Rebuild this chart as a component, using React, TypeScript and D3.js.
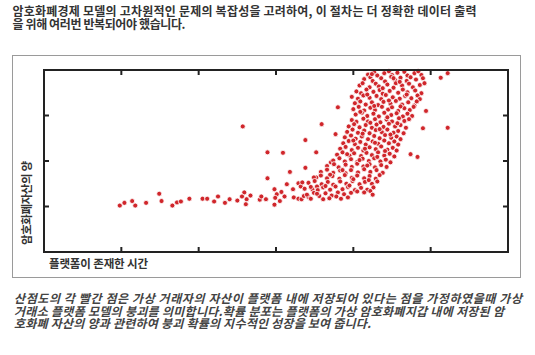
import React from 'react';
import * as d3 from 'd3';

// 플랫폼 초기: 낮은 자산 구간의 점들
const earlyPoints: [number, number][] = [
  [0.98, 1.02], [1.04, 1.08], [1.14, 1.12], [1.18, 1.02], [1.32, 1.08],
  [1.49, 1.28], [1.52, 1.12], [1.66, 1.02], [1.72, 1.09], [1.77, 1.11],
  [1.88, 1.17], [2.05, 1.17], [2.11, 1.17], [2.20, 1.11], [2.25, 1.22],
  [2.34, 1.08], [2.40, 1.16], [2.50, 1.13], [2.59, 1.31], [2.56, 1.22],
  [2.62, 1.16], [2.61, 1.05], [2.67, 1.24], [2.79, 1.15], [2.81, 1.22],
  [2.87, 1.16], [2.89, 1.62], [2.98, 1.38], [3.01, 1.27], [2.99, 1.19],
  [3.07, 1.32], [3.05, 1.12], [2.98, 1.04], [3.11, 1.22], [3.14, 1.49],
  [3.18, 1.76], [3.22, 1.38], [3.23, 1.20], [3.29, 1.17], [3.29, 1.51],
  [3.32, 1.44], [3.34, 1.53], [3.33, 1.16], [3.36, 1.23], [3.38, 1.85],
  [3.42, 1.21], [3.47, 1.38], [3.50, 1.58], [3.52, 1.64], [3.53, 1.44],
];

// 흩어진 점들
const outliers: [number, number][] = [
  [2.57, 2.76], [2.89, 2.19], [3.09, 2.18], [3.38, 2.46], [3.52, 2.19],
  [3.59, 2.81], [3.71, 1.97], [3.77, 2.59], [3.80, 3.18],
  [5.13, 3.83], [5.22, 3.93], [5.22, 2.73], [4.94, 3.10], [4.90, 2.72],
  [4.74, 2.15], [4.83, 2.09],
];

// 붕괴 확률이 급증하는 밀집 구간
const cluster: [number, number][] = [
  [4.19, 3.90], [4.27, 3.95], [4.31, 3.88], [4.40, 3.93], [4.46, 3.97], [4.50, 3.89], [4.57, 3.94], [4.66, 3.96], [4.70, 3.88], [4.79, 3.93], [4.84, 3.97], [4.88, 3.89],
  [4.14, 3.80], [4.22, 3.84], [4.25, 3.76], [4.36, 3.82], [4.41, 3.75], [4.49, 3.85], [4.54, 3.78], [4.61, 3.83], [4.69, 3.76], [4.74, 3.84], [4.81, 3.79], [4.90, 3.82],
  [4.08, 3.66], [4.12, 3.71], [4.21, 3.62], [4.29, 3.70], [4.33, 3.64], [4.44, 3.68], [4.52, 3.61], [4.55, 3.71], [4.63, 3.66], [4.72, 3.70], [4.77, 3.62], [4.86, 3.67], [4.92, 3.71],
  [4.04, 3.53], [4.10, 3.49], [4.17, 3.57], [4.26, 3.52], [4.34, 3.56], [4.38, 3.48], [4.47, 3.54], [4.58, 3.50], [4.64, 3.57], [4.70, 3.51], [4.80, 3.55], [4.88, 3.49],
  [3.98, 3.41], [4.06, 3.37], [4.13, 3.44], [4.21, 3.39], [4.30, 3.43], [4.36, 3.36], [4.42, 3.45], [4.51, 3.40], [4.60, 3.37], [4.67, 3.43], [4.75, 3.38], [4.83, 3.44], [4.86, 3.36],
  [4.02, 3.27], [4.09, 3.31], [4.16, 3.24], [4.24, 3.29], [4.32, 3.23], [4.39, 3.30], [4.48, 3.26], [4.55, 3.32], [4.63, 3.24], [4.71, 3.29], [4.79, 3.22], [4.82, 3.31],
  [4.00, 3.14], [4.07, 3.19], [4.14, 3.11], [4.22, 3.17], [4.28, 3.12], [4.37, 3.19], [4.45, 3.13], [4.50, 3.18], [4.58, 3.10], [4.66, 3.16], [4.73, 3.12], [4.78, 3.19],
  [4.03, 3.02], [4.11, 3.06], [4.18, 2.99], [4.26, 3.04], [4.33, 2.98], [4.40, 3.06], [4.49, 3.01], [4.56, 3.05], [4.64, 2.98], [4.70, 3.04], [4.76, 2.99],
  [3.98, 2.90], [4.04, 2.86], [4.13, 2.93], [4.19, 2.87], [4.28, 2.92], [4.35, 2.85], [4.43, 2.91], [4.50, 2.87], [4.59, 2.94], [4.66, 2.88], [4.72, 2.92],
  [3.94, 2.76], [4.01, 2.81], [4.08, 2.74], [4.16, 2.79], [4.24, 2.73], [4.30, 2.80], [4.39, 2.75], [4.46, 2.82], [4.54, 2.76], [4.61, 2.79], [4.68, 2.73],
  [3.92, 2.64], [3.99, 2.69], [4.06, 2.62], [4.14, 2.67], [4.21, 2.61], [4.29, 2.68], [4.37, 2.63], [4.44, 2.69], [4.52, 2.62], [4.58, 2.66], [4.65, 2.61],
  [3.89, 2.52], [3.97, 2.56], [4.03, 2.49], [4.11, 2.54], [4.19, 2.48], [4.27, 2.55], [4.34, 2.50], [4.41, 2.57], [4.49, 2.51], [4.56, 2.54], [4.61, 2.48],
  [3.87, 2.39], [3.94, 2.44], [4.02, 2.37], [4.09, 2.42], [4.16, 2.36], [4.25, 2.43], [4.32, 2.38], [4.40, 2.45], [4.46, 2.39], [4.53, 2.43], [4.58, 2.36],
  [3.83, 2.27], [3.90, 2.31], [3.98, 2.24], [4.06, 2.29], [4.13, 2.23], [4.21, 2.30], [4.29, 2.26], [4.36, 2.32], [4.44, 2.25], [4.51, 2.29], [4.56, 2.23],
  [3.79, 2.14], [3.86, 2.19], [3.95, 2.12], [4.01, 2.17], [4.10, 2.11], [4.17, 2.18], [4.24, 2.13], [4.32, 2.19], [4.40, 2.12], [4.47, 2.16], [4.53, 2.10],
  [3.74, 2.01], [3.82, 2.06], [3.89, 1.99], [3.97, 2.04], [4.05, 1.98], [4.12, 2.05], [4.20, 2.00], [4.27, 2.06], [4.35, 1.99], [4.42, 2.03], [4.48, 1.97],
  [3.66, 1.89], [3.75, 1.93], [3.81, 1.86], [3.90, 1.92], [3.98, 1.87], [4.05, 1.94], [4.13, 1.88], [4.21, 1.93], [4.28, 1.86], [4.36, 1.91], [4.43, 1.87],
  [3.58, 1.76], [3.66, 1.81], [3.74, 1.74], [3.83, 1.79], [3.90, 1.73], [3.97, 1.80], [4.06, 1.75], [4.14, 1.82], [4.22, 1.76], [4.30, 1.80], [4.38, 1.74],
  [3.49, 1.64], [3.58, 1.68], [3.66, 1.62], [3.73, 1.67], [3.82, 1.61], [3.89, 1.69], [3.98, 1.63], [4.05, 1.68], [4.14, 1.62], [4.21, 1.67], [4.29, 1.61], [4.34, 1.69],
  [3.42, 1.52], [3.50, 1.56], [3.59, 1.49], [3.67, 1.54], [3.74, 1.48], [3.83, 1.55], [3.91, 1.50], [3.99, 1.56], [4.08, 1.49], [4.15, 1.54], [4.24, 1.50], [4.31, 1.55],
  [3.37, 1.39], [3.45, 1.43], [3.54, 1.36], [3.61, 1.42], [3.70, 1.37], [3.77, 1.44], [3.86, 1.38], [3.93, 1.43], [4.02, 1.36], [4.10, 1.41], [4.18, 1.37], [4.26, 1.42],
  [3.40, 1.26], [3.49, 1.30], [3.56, 1.23], [3.64, 1.29], [3.72, 1.24], [3.80, 1.31], [3.88, 1.27], [3.97, 1.30], [4.05, 1.33], [4.14, 1.31], [4.22, 1.34],
  [3.45, 1.17], [3.61, 1.16], [3.69, 1.18], [3.84, 1.17], [3.93, 1.20],
  // 중심부 겹침
  [4.24, 3.91], [4.52, 3.82], [4.60, 3.74], [4.38, 3.60], [4.18, 3.46], [4.46, 3.33], [4.69, 3.46],
  [4.27, 3.21], [4.61, 3.20], [4.09, 3.08], [4.44, 2.96], [4.22, 2.84], [4.57, 2.83], [4.12, 2.60],
  [4.34, 2.70], [4.48, 2.58], [4.00, 2.45], [4.28, 2.40], [4.15, 2.27], [4.41, 2.22], [3.92, 2.15],
  [4.08, 2.02], [4.31, 2.09], [3.86, 1.80], [4.18, 1.90], [3.70, 1.70], [4.00, 1.60], [3.64, 1.45],
  [3.95, 1.46], [4.20, 1.58], [3.53, 1.28], [3.78, 1.22], [4.25, 1.26],
];

const xTicks = [1, 2, 3, 4, 5];
const yTicks = [1, 2, 3];

const titleLines = [
  '암호화폐경제 모델의 고차원적인 문제의 복잡성을 고려하여, 이 절차는 더 정확한 데이터 출력',
  '을 위해 여러번 반복되어야 했습니다.',
];
const captionLines = [
  '산점도의 각 빨간 점은 가상 거래자의 자산이 플랫폼 내에 저장되어 있다는 점을 가정하였을때 가상',
  '거래소 플랫폼 모델의 붕괴를 의미합니다.확률 분포는 플랫폼의 가상 암호화폐지갑 내에 저장된 암',
  '호화폐 자산의 양과 관련하여 붕괴 확률의 지수적인 성장을 보여 줍니다.',
];
const xLabel = '플랫폼이 존재한 시간';
const yLabel = '암호화폐자산의 양';

const font = '"Noto Sans CJK KR", "Noto Sans", sans-serif';

const App: React.FC = () => {
  const width = 535;
  const height = 355;
  const plot = { left: 44, right: 508, top: 70, bottom: 252 };

  const x = d3.scaleLinear().domain([0, 6]).range([plot.left, plot.right]);
  const y = d3.scaleLinear().domain([0, 4]).range([plot.bottom, plot.top]);

  const allPoints = [...earlyPoints, ...outliers, ...cluster];
  const tickLen = 5;

  return (
    <svg
      width={width}
      height={height}
      style={{ position: 'absolute', left: 0, top: 0, background: '#fff' }}
      fontFamily={font}
    >
      {/* 제목 */}
      <g fill="#333" fontWeight={700} fontSize={12}>
        <text x={12.5} y={16} textLength={464} lengthAdjust="spacing">{titleLines[0]}</text>
        <text x={12.5} y={28.5} textLength={173} lengthAdjust="spacing">{titleLines[1]}</text>
      </g>

      {/* 바깥 테두리 */}
      <rect x={12.5} y={55.5} width={508} height={222} fill="none" stroke="#9a9a9a" strokeWidth={1} />

      {/* 점 */}
      <g>
        {allPoints.map((d, i) => (
          <circle
            key={i}
            cx={x(d[0])}
            cy={y(d[1])}
            r={2.5}
            fill="#d0262b"
            stroke="#fff"
            strokeWidth={0.8}
          />
        ))}
      </g>

      {/* 축 */}
      <g stroke="#222" strokeWidth={2}>
        {xTicks.map(t => (
          <g key={`x${t}`}>
            <line x1={x(t)} x2={x(t)} y1={plot.bottom} y2={plot.bottom - tickLen} />
            <line x1={x(t)} x2={x(t)} y1={plot.top} y2={plot.top + tickLen} />
          </g>
        ))}
        {yTicks.map(t => (
          <g key={`y${t}`}>
            <line x1={plot.left} x2={plot.left + tickLen} y1={y(t)} y2={y(t)} />
            <line x1={plot.right} x2={plot.right - tickLen} y1={y(t)} y2={y(t)} />
          </g>
        ))}
        <rect
          x={plot.left}
          y={plot.top}
          width={plot.right - plot.left}
          height={plot.bottom - plot.top}
          fill="none"
        />
      </g>

      {/* 축 제목 */}
      <g fill="#333" fontWeight={700} fontSize={11.5}>
        <text x={49} y={268} textLength={99} lengthAdjust="spacing">{xLabel}</text>
        <text transform="translate(31,245) rotate(-90)" x={0} y={0} textLength={84} lengthAdjust="spacing">{yLabel}</text>
      </g>

      {/* 설명 */}
      <g fill="#444" fontWeight={700} fontStyle="italic" fontSize={12}>
        <text x={14} y={303} textLength={508} lengthAdjust="spacing">{captionLines[0]}</text>
        <text x={14} y={315.5} textLength={490} lengthAdjust="spacing">{captionLines[1]}</text>
        <text x={14} y={328} textLength={357} lengthAdjust="spacing">{captionLines[2]}</text>
      </g>
    </svg>
  );
};

export default App;
